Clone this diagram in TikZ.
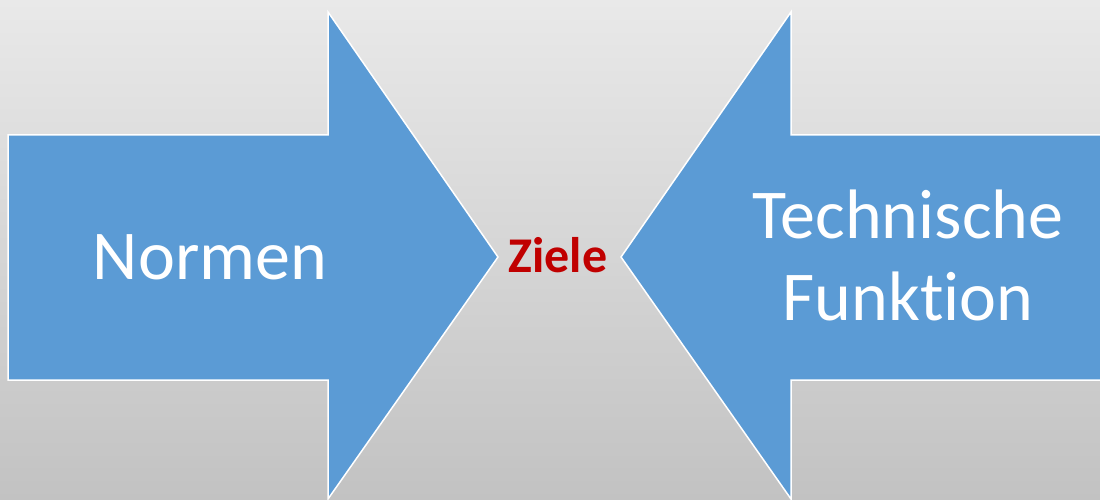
\documentclass[tikz,border=0pt]{standalone}
\usepackage{fontspec}
\setmainfont{Carlito}[Ligatures=CommonOff]
\definecolor{arrowblue}{RGB}{91,155,213}
\definecolor{bgtop}{RGB}{233,233,233}
\definecolor{bgbot}{RGB}{194,194,194}
\definecolor{zielred}{RGB}{192,0,0}
\begin{document}
\begin{tikzpicture}[x=1pt,y=-1pt,
  bigarrow/.style={fill=arrowblue,draw=white,line width=1.5pt,line join=miter},
  bigtext/.style={text=white,font=\fontsize{70}{82}\selectfont,align=center,inner sep=0pt},
  goal/.style={text=zielred,font=\fontsize{50}{58}\selectfont\bfseries,inner sep=0pt}]
\useasboundingbox (0,0) rectangle (1100,500);
\shade[top color=bgtop,bottom color=bgbot] (0,0) rectangle (1100,500);
\draw[bigarrow] (8,135) -- (328,135) -- (328,12) -- (498,257) -- (328,499) -- (328,380) -- (8,380) -- cycle;
\draw[bigarrow] (1110,135) -- (791,135) -- (791,12) -- (621,257) -- (791,499) -- (791,380) -- (1110,380) -- cycle;
\node[bigtext] (normen) at (210,257) {Normen};
\node[bigtext] (technik) at (908,255) {Technische\\Funktion};
\node[goal] (ziele) at (558,255) {Ziele};
\end{tikzpicture}
\end{document}
